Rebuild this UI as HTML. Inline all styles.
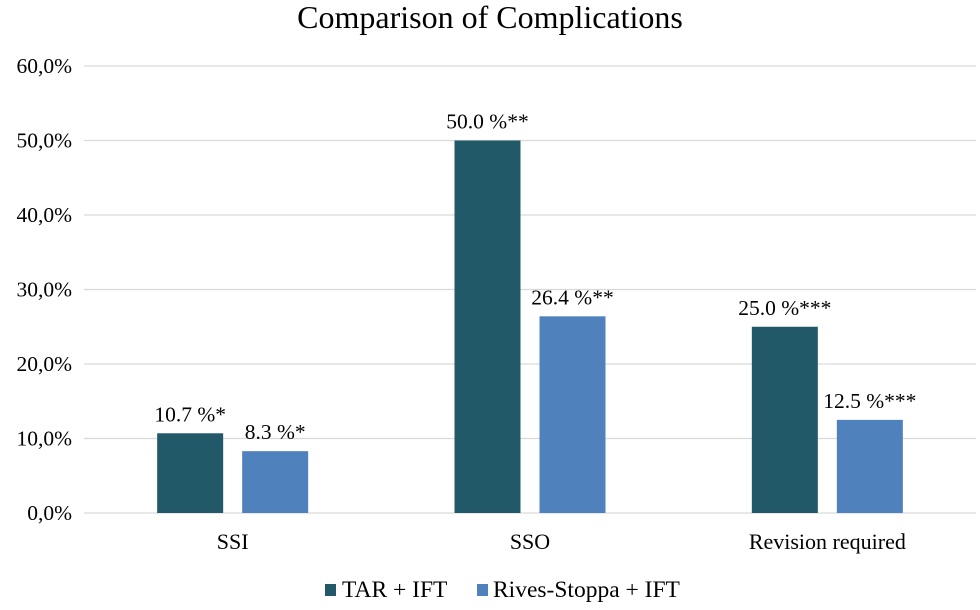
<!DOCTYPE html>
<html><head><meta charset="utf-8"><style>
body{margin:0;background:#fff;}
svg text{font-family:"Liberation Serif",serif;fill:#000;}
</style></head><body>
<svg width="980" height="605">
<text x="490" y="28" text-anchor="middle" font-size="32">Comparison of Complications</text>
<g id="grid"></g><g id="bars"></g><g id="labels"></g>
<g>
<rect x="325" y="584" width="11" height="12" fill="#215968"/>
<text x="342" y="597" font-size="23.5">TAR + IFT</text>
<rect x="477" y="584" width="11" height="12" fill="#4f81bd"/>
<text x="493" y="597" font-size="23.5">Rives-Stoppa + IFT</text>
</g>
</svg>
<script>
const categories=["SSI","SSO","Revision required"];
const tarValues=[10.7,50.0,25.0];
const rivesValues=[8.3,26.4,12.5];
const tarLabels=["10.7 %*","50.0 %**","25.0 %***"];
const rivesLabels=["8.3 %*","26.4 %**","12.5 %***"];
const yTicks=[0,10,20,30,40,50,60];
const ns="http://www.w3.org/2000/svg";
const X0=84,X1=976,Y0=513,Y60=66;
const y=v=>Y0-(v/60)*(Y0-Y60);
const cw=(X1-X0)/categories.length;
const cx=i=>X0+cw*(i+0.5);
function mk(t,a,p){const e=document.createElementNS(ns,t);for(const k in a)e.setAttribute(k,a[k]);p.appendChild(e);return e;}
const grid=document.getElementById('grid'),bars=document.getElementById('bars'),labels=document.getElementById('labels');
yTicks.forEach(t=>{
 const l=mk('line',{x1:X0,x2:X1,y1:y(t),y2:y(t),stroke:'#d9d9d9','stroke-width':1.3},grid);
 
 
 const tx=mk('text',{x:72,y:y(t)+7,'text-anchor':'end','font-size':21.5},grid);
 tx.textContent=t.toFixed(1).replace('.',',')+'%';
 
 
});
const bw=66,off=42.5;
categories.forEach((c,i)=>{
 [[tarValues,tarLabels,'#215968',-off,'tar'],[rivesValues,rivesLabels,'#4f81bd',off,'rives']].forEach(s=>{
  const v=s[0][i],x=cx(i)+s[3];
  const r=mk('rect',{x:x-bw/2,y:y(v),width:bw,height:Y0-y(v),fill:s[2]},bars);
  
  
  const t=mk('text',{x:x,y:y(v)-12,'text-anchor':'middle','font-size':21.5},labels);
  t.textContent=s[1][i];
  
  
 });
 const t=mk('text',{x:cx(i),y:549,'text-anchor':'middle','font-size':22},labels);
 t.textContent=c;
 
 
});
</script>
</body></html>
